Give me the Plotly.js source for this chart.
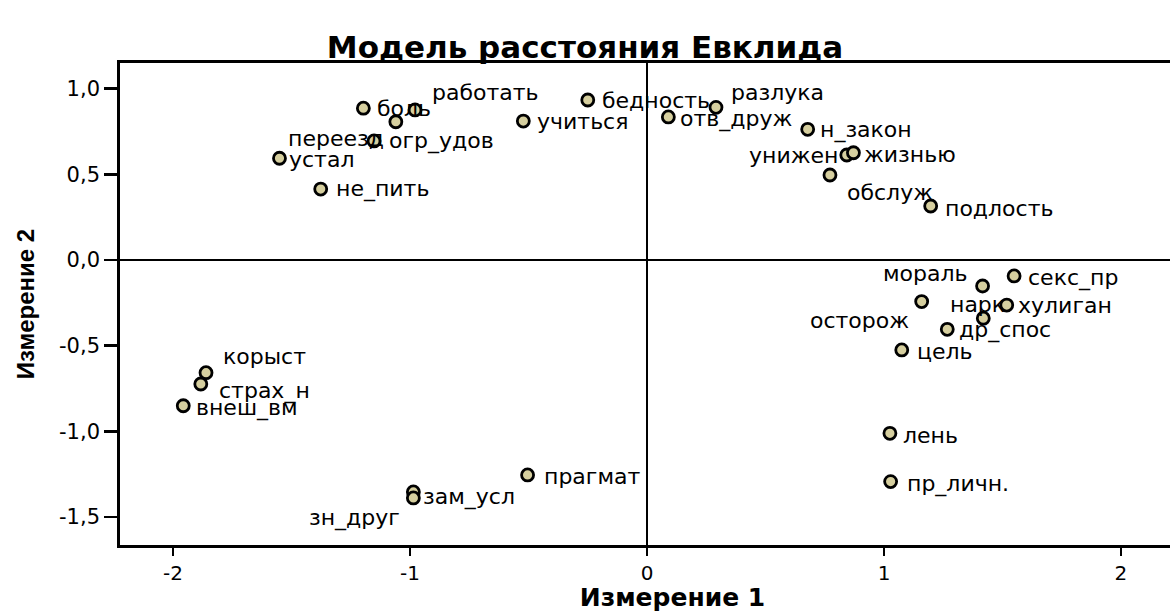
<!DOCTYPE html>
<html>
<head>
<meta charset="utf-8">
<script src="https://cdn.plot.ly/plotly-3.0.1.min.js"></script>
<style>
html,body{margin:0;padding:0;overflow:hidden;background:#fff;width:1170px;height:612px;}
#chart{width:1225px;height:612px;}
</style>
</head>
<body>
<div id="chart"></div>
<script>
// Stimulus labels
const labels = ["боль","работать","переезд","огр_удов","устал","не_пить","бедность","учиться",
  "отв_друж","разлука","н_закон","унижен","жизнью","обслуж","подлость",
  "мораль","секс_пр","осторож","нарк","хулиган","др_спос","цель","лень","пр_личн.",
  "корыст","страх_н","внеш_вм","прагмат","зам_усл","зн_друг"];
// Dimension 1 coordinates
const dim1 = [-1.197,-0.979,-1.060,-1.152,-1.551,-1.377,-0.250,-0.522,
  0.090,0.291,0.678,0.843,0.871,0.772,1.197,
  1.416,1.549,1.159,1.419,1.518,1.267,1.075,1.025,1.028,
  -1.861,-1.883,-1.957,-0.504,-0.986,-0.986];
// Dimension 2 coordinates
const dim2 = [0.886,0.876,0.807,0.695,0.594,0.414,0.934,0.811,
  0.835,0.891,0.763,0.613,0.626,0.496,0.315,
  -0.152,-0.093,-0.243,-0.340,-0.263,-0.405,-0.525,-1.012,-1.294,
  -0.658,-0.724,-0.851,-1.255,-1.354,-1.389];
// Tick labels
const xTickVals = [-2,-1,0,1,2];
const xTickText = ["-2","-1","0","1","2"];
const yTickVals = [-1.5,-1,-0.5,0,0.5,1];
const yTickText = ["-1,5","-1,0","-0,5","0,0","0,5","1,0"];

// label placement (style): [anchor, dx px, dy px (down positive)]
const place = {
  "боль":["left",12,0],"работать":["left",15,-17],"переезд":["right",-10,17],
  "огр_удов":["left",13,0],"устал":["left",8,1],"не_пить":["left",13,0],
  "бедность":["left",12,0],"учиться":["left",12,0],"отв_друж":["left",10,2],
  "разлука":["left",13,-15],"н_закон":["left",10,1],"унижен":["right",-7,1],
  "жизнью":["left",9,2],"обслуж":["left",15,17],"подлость":["left",12,2],
  "мораль":["right",-13,-13],"секс_пр":["left",12,2],"осторож":["right",-11,19],
  "нарк":["center",-6,-14],"хулиган":["left",9,0],"др_спос":["left",10,1],
  "цель":["left",13,2],"лень":["left",11,2],"пр_личн.":["left",14,2],
  "корыст":["left",15,-16],"страх_н":["left",16,7],"внеш_вм":["left",11,2],
  "прагмат":["left",14,2],"зам_усл":["left",8,5],"зн_друг":["right",-11,20]
};

const labelFont = {family:"DejaVu Sans", size:22, color:"#000"};
const annotations = labels.map((t,i)=>{
  const p = place[t] || ["left",12,0];
  return {x:dim1[i], y:dim2[i], xref:"x", yref:"y", text:t, showarrow:false,
    xanchor:p[0], yanchor:"middle", xshift:p[1], yshift:-p[2], font:labelFont};
});

const trace = {
  x: dim1, y: dim2, text: labels, type:"scatter", mode:"markers",
  marker:{size:12, color:"#d6cf9f", line:{color:"#000", width:2.8}},
  hoverinfo:"text"
};

const layout = {
  width:1225, height:612,
  margin:{l:120, r:0, t:63, b:67},
  paper_bgcolor:"#fff", plot_bgcolor:"#fff",
  showlegend:false,
  title:{text:"Модель расстояния Евклида", font:{family:"DejaVu Sans", size:31, color:"#000", weight:"bold"},
    xref:"container", x:585/1225, xanchor:"center", yref:"container", y:1-47/612, yanchor:"middle"},
  xaxis:{range:[-2.224,2.439], showgrid:false, zeroline:true, zerolinecolor:"#000", zerolinewidth:2.2,
    showline:true, linecolor:"#000", linewidth:2.8, mirror:true,
    ticks:"outside", ticklen:8, tickwidth:2.5, tickcolor:"#000",
    tickvals:xTickVals, ticktext:xTickText,
    tickfont:{family:"DejaVu Sans", size:20, color:"#000"},
    title:{text:"Измерение 1", font:{family:"DejaVu Sans", size:25, color:"#000", weight:"bold"}, standoff:8}},
  yaxis:{range:[-1.664,1.150], showgrid:false, zeroline:true, zerolinecolor:"#000", zerolinewidth:2.2,
    showline:true, linecolor:"#000", linewidth:2.8, mirror:true,
    ticks:"outside", ticklen:13, tickwidth:2.5, tickcolor:"#000",
    tickvals:yTickVals, ticktext:yTickText,
    tickfont:{family:"DejaVu Sans", size:21, color:"#000"},
    title:{text:"Измерение 2", font:{family:"Liberation Sans", size:24, color:"#000", weight:"bold"}, standoff:18}},
  annotations: annotations
};

Plotly.newPlot("chart", [trace], layout, {displayModeBar:false, staticPlot:true});
</script>
</body>
</html>
